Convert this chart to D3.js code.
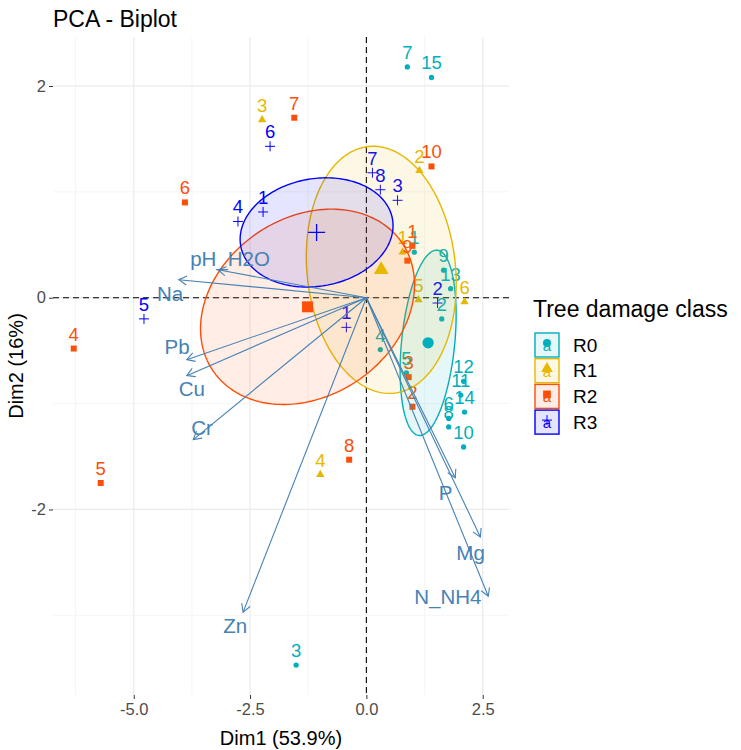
<!DOCTYPE html>
<html><head><meta charset="utf-8">
<script src="https://cdn.jsdelivr.net/npm/d3@7"></script>
<style>body{margin:0;background:#fff;} svg text{font-family:"Liberation Sans", Arial, sans-serif;}</style>
</head><body><svg id="c" width="741" height="750"></svg>
<script>
// ---------- data ----------
const groups = ["R0", "R1", "R2", "R3"];
const groupColors = ["#00AFBB", "#E7B800", "#FC4E07", "#0000FF"];
const groupShapes = ["circle", "triangle", "square", "plus"];

const r0Labels = ["7","15","1","9","13","2","4","5","12","11","14","6","8","10","3"];
const r0Dim1 = [0.88, 1.40, 1.03, 1.66, 1.81, 1.62, 0.30, 0.86, 2.09, 2.03, 2.11, 1.77, 1.77, 2.09, -1.51];
const r0Dim2 = [2.18, 2.08, 0.43, 0.26, 0.085, -0.20, -0.49, -0.71, -0.79, -0.92, -1.08, -1.14, -1.22, -1.41, -3.47];

const r1Labels = ["3","2","1","5","6","4"];
const r1Dim1 = [-2.24, 1.14, 0.78, 1.12, 2.11, -0.99];
const r1Dim2 = [1.68, 1.20, 0.43, -0.02, -0.04, -1.67];

const r2Labels = ["7","10","6","1","9","4","5","8","3","2"];
const r2Dim1 = [-1.55, 1.40, -3.90, 0.99, 0.88, -6.29, -5.71, -0.37, 0.91, 0.99];
const r2Dim2 = [1.70, 1.24, 0.90, 0.49, 0.35, -0.48, -1.75, -1.53, -0.75, -1.03];

const r3Labels = ["6","1","4","7","8","3","5","2","1"];
const r3Dim1 = [-2.07, -2.22, -2.76, 0.13, 0.30, 0.67, -4.78, 1.53, -0.43];
const r3Dim2 = [1.43, 0.81, 0.72, 1.18, 1.02, 0.92, -0.20, -0.05, -0.28];

const varNames = ["pH_H2O","Na","Pb","Cu","Cr","Zn","P","Mg","N_NH4"];
const varDim1 = [-3.19, -4.03, -3.86, -3.86, -3.72, -2.65, 1.91, 2.45, 2.62];
const varDim2 = [0.264, 0.17, -0.585, -0.736, -1.34, -2.97, -1.70, -2.26, -2.82];
const varLabelDim1 = [-2.93, -4.22, -4.07, -3.75, -3.53, -2.82, 1.70, 2.24, 1.75];
const varLabelDim2 = [0.37, 0.04, -0.46, -0.86, -1.23, -3.10, -1.84, -2.41, -2.82];

const xTicks = [-5.0, -2.5, 0.0, 2.5];
const xTickLabels = ["-5.0", "-2.5", "0.0", "2.5"];
const yTicks = [-2, 0, 2];
const yTickLabels = ["-2", "0", "2"];
const xMinor = [-6.25, -3.75, -1.25, 1.25];
const yMinor = [-3, -1, 1];

const titleText = "PCA - Biplot";
const xTitle = "Dim1 (53.9%)";
const yTitle = "Dim2 (16%)";
const legendTitle = "Tree damage class";

// ---------- build ----------
const groupData = [
  {labels: r0Labels, x: r0Dim1, y: r0Dim2},
  {labels: r1Labels, x: r1Dim1, y: r1Dim2},
  {labels: r2Labels, x: r2Dim1, y: r2Dim2},
  {labels: r3Labels, x: r3Dim1, y: r3Dim2}
];
const inds = [];
groupData.forEach((g, gi) => g.labels.forEach((l, i) => inds.push({g: gi, label: l, x: g.x[i], y: g.y[i]})));
const vars = varNames.map((n, i) => ({name: n, x: varDim1[i], y: varDim2[i], lx: varLabelDim1[i], ly: varLabelDim2[i]}));

const M = {left: 53, right: 509, top: 37, bottom: 695};
const allX = inds.map(d => d.x).concat(vars.map(d => d.x), [0]);
const allY = inds.map(d => d.y).concat(vars.map(d => d.y), [0]);
function expand(ext) { const r = ext[1] - ext[0]; return [ext[0] - 0.05 * r, ext[1] + 0.05 * r]; }
const x = d3.scaleLinear().domain(expand(d3.extent(allX))).range([M.left, M.right]);
const y = d3.scaleLinear().domain(expand(d3.extent(allY))).range([M.bottom, M.top]);

const svg = d3.select("#c");

// grid
const grid = svg.append("g");
grid.selectAll(".xm").data(xMinor).join("line")
  .attr("x1", d => x(d)).attr("x2", d => x(d)).attr("y1", M.top).attr("y2", M.bottom)
  .attr("stroke", "#F2F2F2").attr("stroke-width", 0.8);
grid.selectAll(".ym").data(yMinor).join("line")
  .attr("y1", d => y(d)).attr("y2", d => y(d)).attr("x1", M.left).attr("x2", M.right)
  .attr("stroke", "#F2F2F2").attr("stroke-width", 0.8);
grid.selectAll(".xM").data(xTicks).join("line")
  .attr("x1", d => x(d)).attr("x2", d => x(d)).attr("y1", M.top).attr("y2", M.bottom)
  .attr("stroke", "#EBEBEB").attr("stroke-width", 1.2);
grid.selectAll(".yM").data(yTicks).join("line")
  .attr("y1", d => y(d)).attr("y2", d => y(d)).attr("x1", M.left).attr("x2", M.right)
  .attr("stroke", "#EBEBEB").attr("stroke-width", 1.2);

// axes
const xAxis = d3.axisBottom(x).tickValues(xTicks).tickFormat((d, i) => xTickLabels[i]).tickSize(4).tickPadding(4);
const gx = svg.append("g").attr("transform", `translate(0,${M.bottom})`).call(xAxis);
const yAxis = d3.axisLeft(y).tickValues(yTicks).tickFormat((d, i) => yTickLabels[i]).tickSize(4).tickPadding(3);
const gy = svg.append("g").attr("transform", `translate(${M.left},0)`).call(yAxis);
[gx, gy].forEach(g => {
  g.select(".domain").remove();
  g.selectAll(".tick line").attr("stroke", "#333333").attr("stroke-width", 1);
  g.selectAll(".tick text").attr("fill", "#4D4D4D").style("font-size", "16.5px")
    .style("font-family", '"Liberation Sans", Arial, sans-serif');
});

// zero lines
svg.append("line").attr("x1", M.left).attr("x2", M.right).attr("y1", y(0)).attr("y2", y(0))
  .attr("stroke", "#000").attr("stroke-width", 1.1).attr("stroke-dasharray", "6,4");
svg.append("line").attr("x1", x(0)).attr("x2", x(0)).attr("y1", M.top).attr("y2", M.bottom)
  .attr("stroke", "#000").attr("stroke-width", 1.1).attr("stroke-dasharray", "6,4");

// shapes
function shapePath(shape, size) {
  if (shape === "plus") {
    const h = size / 2;
    return `M${-h},0L${h},0M0,${-h}L0,${h}`;
  }
  const t = shape === "circle" ? d3.symbolCircle : shape === "triangle" ? d3.symbolTriangle : d3.symbolSquare;
  return d3.symbol().type(t).size(size)();
}
function drawShape(sel, gi, big) {
  const shape = groupShapes[gi], col = groupColors[gi];
  let size;
  if (shape === "circle") size = big ? 100 : 22;
  else if (shape === "triangle") size = big ? 95 : 30;
  else if (shape === "square") size = big ? 120 : 36;
  else size = big ? 17 : 10;
  sel.attr("d", shapePath(shape, size));
  if (shape === "plus") sel.attr("fill", "none").attr("stroke", col).attr("stroke-width", big ? 1.3 : 1);
  else sel.attr("fill", col).attr("stroke", "none");
}

// individuals
const gInd = svg.append("g");
inds.forEach(d => {
  const p = gInd.append("path").attr("transform", `translate(${x(d.x)},${y(d.y)})`);
  drawShape(p, d.g, false);
  gInd.append("text").attr("x", x(d.x)).attr("y", y(d.y) - 8).attr("text-anchor", "middle")
    .attr("fill", groupColors[d.g]).style("font-size", "18.5px").text(d.label);
});

// confidence ellipses
const tq = Math.sqrt(5.991464547);
function confEllipse(xs, ys) {
  const n = xs.length, mx = d3.mean(xs), my = d3.mean(ys);
  let sxx = 0, syy = 0, sxy = 0;
  for (let i = 0; i < n; i++) { const dx = xs[i] - mx, dy = ys[i] - my; sxx += dx * dx; syy += dy * dy; sxy += dx * dy; }
  sxx /= (n - 1) * n; syy /= (n - 1) * n; sxy /= (n - 1) * n;
  const tr = sxx + syy, det = sxx * syy - sxy * sxy;
  const disc = Math.sqrt(Math.max(0, tr * tr / 4 - det));
  const l1 = tr / 2 + disc, l2 = tr / 2 - disc;
  const ang = Math.abs(sxy) > 1e-12 ? Math.atan2(l1 - sxx, sxy) : (sxx >= syy ? 0 : Math.PI / 2);
  const ca = Math.cos(ang), sa = Math.sin(ang);
  const a = tq * Math.sqrt(l1), b = tq * Math.sqrt(Math.max(l2, 0));
  const pts = d3.range(0, 201).map(k => {
    const th = 2 * Math.PI * k / 200;
    const u = a * Math.cos(th), v = b * Math.sin(th);
    return [mx + u * ca - v * sa, my + u * sa + v * ca];
  });
  return {pts, mx, my};
}
const line = d3.line().x(d => x(d[0])).y(d => y(d[1]));
const ell = groupData.map((g, gi) => confEllipse(g.x, g.y));
const gEll = svg.append("g");
ell.forEach((e, gi) => {
  gEll.append("path").attr("d", line(e.pts) + "Z")
    .attr("fill", groupColors[gi]).attr("fill-opacity", 0.1)
    .attr("stroke", groupColors[gi]).attr("stroke-width", 1.4);
});
// group means
ell.forEach((e, gi) => {
  const p = svg.append("path").attr("transform", `translate(${x(e.mx)},${y(e.my)})`);
  drawShape(p, gi, true);
});

// variable arrows
const varCol = "#4682B4";
const gVar = svg.append("g");
vars.forEach(v => {
  const x0 = x(0), y0 = y(0), x1 = x(v.x), y1 = y(v.y);
  gVar.append("line").attr("x1", x0).attr("y1", y0).attr("x2", x1).attr("y2", y1)
    .attr("stroke", varCol).attr("stroke-width", 1.1);
  const ang = Math.atan2(y1 - y0, x1 - x0), L = 9, spread = Math.PI / 6;
  const ax = x1 - L * Math.cos(ang - spread), ay = y1 - L * Math.sin(ang - spread);
  const bx = x1 - L * Math.cos(ang + spread), by = y1 - L * Math.sin(ang + spread);
  gVar.append("path").attr("d", `M${ax},${ay}L${x1},${y1}L${bx},${by}`)
    .attr("fill", "none").attr("stroke", varCol).attr("stroke-width", 1.1);
  gVar.append("text").attr("x", x(v.lx)).attr("y", y(v.ly)).attr("text-anchor", "middle")
    .attr("dominant-baseline", "central").attr("fill", varCol).style("font-size", "20.5px").text(v.name);
});

// titles
svg.append("text").attr("x", M.left).attr("y", 27).style("font-size", "23px").attr("fill", "#000").text(titleText);
svg.append("text").attr("x", (M.left + M.right) / 2).attr("y", 745).attr("text-anchor", "middle")
  .style("font-size", "20px").attr("fill", "#000").text(xTitle);
svg.append("text").attr("transform", `translate(23,${(M.top + M.bottom) / 2}) rotate(-90)`).attr("text-anchor", "middle")
  .style("font-size", "20px").attr("fill", "#000").text(yTitle);

// legend
const lg = svg.append("g");
lg.append("text").attr("x", 533).attr("y", 317).style("font-size", "23px").attr("fill", "#000").text(legendTitle);
groups.forEach((g, gi) => {
  const ky = 333 + gi * 25.7, kx = 535, ks = 24;
  lg.append("rect").attr("x", kx).attr("y", ky).attr("width", ks).attr("height", ks)
    .attr("fill", groupColors[gi]).attr("fill-opacity", 0.1)
    .attr("stroke", groupColors[gi]).attr("stroke-width", 1.4);
  lg.append("text").attr("x", kx + ks / 2).attr("y", ky + ks / 2 + 6).attr("text-anchor", "middle")
    .attr("fill", groupColors[gi]).style("font-size", "15px").text("a");
  const p = lg.append("path").attr("transform", `translate(${kx + ks / 2},${ky + ks / 2 - 2})`);
  drawShape(p, gi, false);
  if (groupShapes[gi] !== "plus") p.attr("d", shapePath(groupShapes[gi], groupShapes[gi] === "circle" ? 50 : 60));
  lg.append("text").attr("x", 573).attr("y", ky + ks / 2).attr("dominant-baseline", "central")
    .style("font-size", "19px").attr("fill", "#000").text(g);
});
</script></body></html>
